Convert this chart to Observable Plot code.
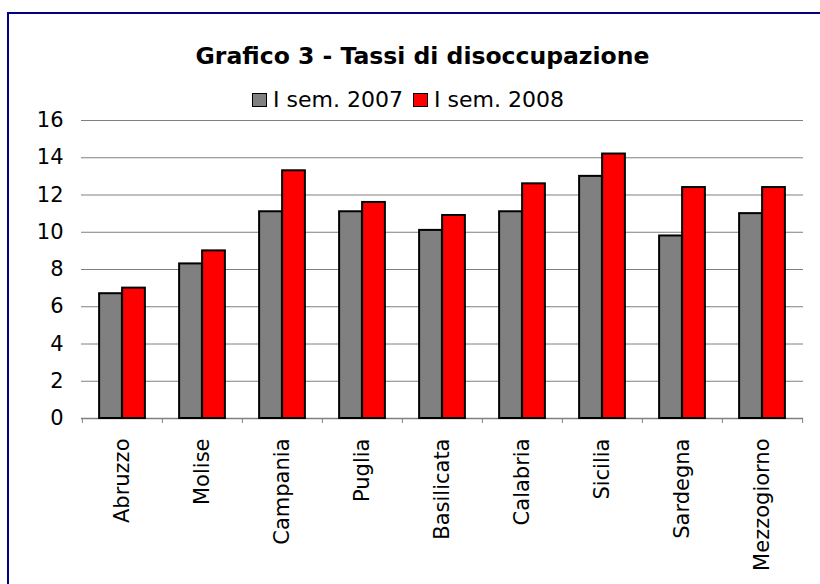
<!DOCTYPE html>
<html><head><meta charset="utf-8">
<script src="https://cdn.jsdelivr.net/npm/d3@7"></script>
<script src="https://cdn.jsdelivr.net/npm/@observablehq/plot@0.6"></script>
<style>
body{margin:0;background:#fff;font-family:"DejaVu Sans",Verdana,sans-serif;color:#000;}
#wrap{position:relative;width:820px;height:584px;overflow:hidden;background:#fff;}
#frame{position:absolute;left:7px;top:12px;width:900px;height:700px;border:2px solid #000080;box-sizing:border-box;}
#title{position:absolute;top:45px;left:0;width:845px;text-align:center;font-weight:bold;font-size:23.5px;line-height:22px;}
#legend{position:absolute;top:89px;left:0;width:816px;display:flex;justify-content:center;align-items:center;font-size:22px;line-height:22px;}
#legend .item{display:flex;align-items:center;margin:0 5px;}
#legend .sw{width:15px;height:14px;border:1.5px solid #000;box-sizing:border-box;margin-right:6px;}
#chart{position:absolute;left:0;top:100px;}
</style></head>
<body>
<div id="wrap">
  <div id="frame"></div>
  <div id="title"></div>
  <div id="legend"></div>
  <div id="chart"></div>
</div>
<script>
const title = "Grafico 3 - Tassi di disoccupazione";
const regions = ["Abruzzo","Molise","Campania","Puglia","Basilicata","Calabria","Sicilia","Sardegna","Mezzogiorno"];
const seriesNames = ["I sem. 2007","I sem. 2008"];
const seriesColors = ["#808080","#ff0000"];
const v2007 = [6.7, 8.3, 11.1, 11.1, 10.1, 11.1, 13.0, 9.8, 11.0];
const v2008 = [7.0, 9.0, 13.3, 11.6, 10.9, 12.6, 14.2, 12.4, 12.4];
const yTicks = [0,2,4,6,8,10,12,14,16];

document.getElementById("title").textContent = title;
const leg = document.getElementById("legend");
seriesNames.forEach((n,i)=>{
  const it = document.createElement("div"); it.className="item";
  const sw = document.createElement("div"); sw.className="sw"; sw.style.background=seriesColors[i];
  const tx = document.createElement("span"); tx.textContent=n;
  it.appendChild(sw); it.appendChild(tx); leg.appendChild(it);
});

const d07 = regions.map((r,i)=>({region:r, value:v2007[i]}));
const d08 = regions.map((r,i)=>({region:r, value:v2008[i]}));

const W = 820, H = 484, mL = 81, mR = 17, mT = 20, mB = 166;
const bw = (W - mL - mR) / regions.length;
const barW = 23;
const inA = bw/2 - barW, inB = bw/2;

const plot = Plot.plot({
  width: W, height: H,
  marginLeft: mL, marginRight: mR, marginTop: mT, marginBottom: mB,
  style: {fontFamily: '"DejaVu Sans", Verdana, sans-serif', fontSize: "21px", color: "#000", background: "transparent"},
  x: {domain: regions, padding: 0, label: null},
  y: {domain: [0,16], label: null},
  marks: [
    Plot.gridY(yTicks, {stroke: "#808080", strokeOpacity: 1, strokeWidth: 1}),
    Plot.axisY(yTicks, {tickSize: 0, tickPadding: 18, fontSize: 21, label: null}),
    Plot.ruleY([0], {stroke: "#808080", strokeWidth: 1.5}),
    Plot.axisX(regions, {tickSize: 5, tickFormat: () => "", dx: -bw/2, stroke: "#808080", label: null}),
    Plot.axisX([regions[regions.length-1]], {tickSize: 5, tickFormat: () => "", dx: bw/2, stroke: "#808080", label: null}),
    Plot.barY(d07, {x: "region", y: "value", fill: seriesColors[0], stroke: "#000", strokeWidth: 2, insetLeft: inA, insetRight: inB}),
    Plot.barY(d08, {x: "region", y: "value", fill: seriesColors[1], stroke: "#000", strokeWidth: 2, insetLeft: inB, insetRight: inA}),
    Plot.axisX(regions, {tickSize: 0, tickPadding: 20, tickRotate: -90, fontSize: 21, label: null})
  ]
});
document.getElementById("chart").appendChild(plot);
</script>
</body></html>
